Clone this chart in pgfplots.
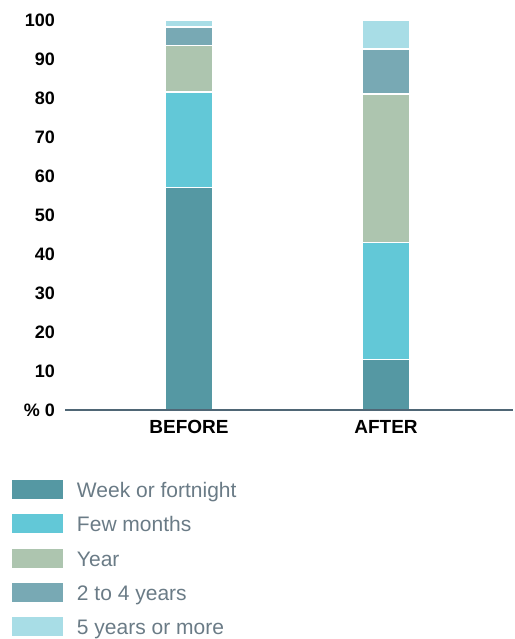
\documentclass[border=0pt]{standalone}
\usepackage{pgfplots}
\pgfplotsset{compat=1.18}
\usepackage{fontspec}
\setmainfont{Liberation Sans}
\definecolor{cweek}{HTML}{5598A3}
\definecolor{cfew}{HTML}{62C8D7}
\definecolor{cyear}{HTML}{ADC5AF}
\definecolor{ctwo}{HTML}{78A9B4}
\definecolor{cfive}{HTML}{A8DDE6}
\definecolor{caxis}{HTML}{4F6675}
\definecolor{clegtext}{HTML}{6A7B86}
\begin{document}
\begin{tikzpicture}[x=1pt,y=1pt]
\path[use as bounding box] (0,0) rectangle (514,639);
\begin{axis}[
  scale only axis,
  width=448pt, height=390pt,
  at={(65pt,229pt)}, anchor=south west,
  xmin=-0.6294, xmax=1.6447,
  ymin=0, ymax=100,
  clip=false,
  axis on top,
  ybar stacked,
  bar width=47pt,
  axis x line=bottom,
  axis y line=left,
  x axis line style={draw=caxis, line width=2pt, -},
  y axis line style={draw=none},
  major tick length=0pt,
  xtick={0,1},
  xticklabels={BEFORE,AFTER},
  xticklabel style={anchor=north, inner sep=0pt, yshift=-10pt, font=\fontsize{19}{22}\selectfont\bfseries},
  ytick={0,10,...,100},
  yticklabels={\% 0,10,20,30,40,50,60,70,80,90,100},
  yticklabel style={anchor=east, inner sep=0pt, xshift=-10pt, font=\fontsize{18}{21}\selectfont\bfseries},
  legend style={
    at={(axis description cs:-0.11830,-0.17949)}, anchor=north west,
    draw=none, fill=none, inner sep=0pt, outer sep=0pt,
    row sep=15.3pt, column sep=14pt,
    nodes={inner sep=0pt, outer sep=0pt, anchor=base west, text height=17.5pt, text depth=1.5pt,
           font=\fontsize{21}{25}\selectfont, text=clegtext},
  },
  legend image code/.code={\fill[#1,draw=none] (0pt,-1.5pt) rectangle (51pt,17.5pt);},
  every axis plot/.append style={draw=white, line width=1.5pt},
]
\addplot[fill=cweek] coordinates {(0,57) (1,13)};
\addplot[fill=cfew] coordinates {(0,24.5) (1,30)};
\addplot[fill=cyear] coordinates {(0,12) (1,38)};
\addplot[fill=ctwo] coordinates {(0,4.7) (1,11.5)};
\addplot[fill=cfive] coordinates {(0,1.8) (1,7.5)};
\legend{Week or fortnight,Few months,Year,2 to 4 years,5 years or more}
\end{axis}
\end{tikzpicture}
\end{document}
